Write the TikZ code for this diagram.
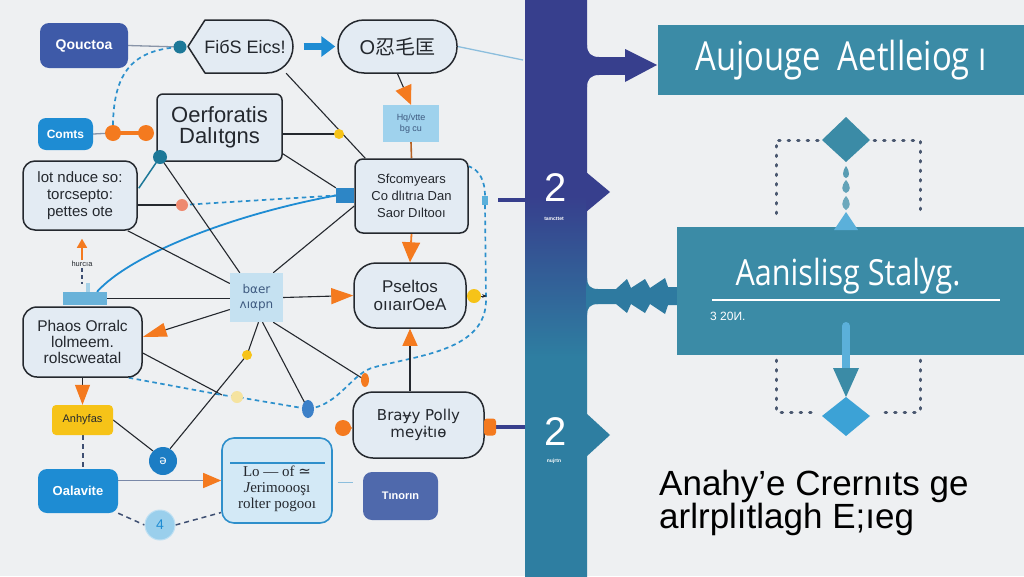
\documentclass[tikz,border=0pt]{standalone}
\usepackage{fontspec}
\usepackage{graphicx}
\setmainfont{Liberation Sans}
\newfontfamily\cjk{Noto Sans CJK SC}
\newfontfamily\dv{DejaVu Sans}
\newfontfamily\osans{Open Sans}
\newfontfamily\lserif{Liberation Serif}
\usetikzlibrary{arrows.meta,calc}
\definecolor{bg}{HTML}{EEF0F2}
\definecolor{nfill}{HTML}{E3EBF3}
\definecolor{edge}{HTML}{24282E}
\definecolor{dblue}{HTML}{3E5AA8}
\definecolor{bblue}{HTML}{1E8CD3}
\definecolor{lblue}{HTML}{9FD2ED}
\definecolor{hubc}{HTML}{C5E1F1}
\definecolor{hubt}{HTML}{3E5A80}
\definecolor{orng}{HTML}{F47A1F}
\definecolor{yel}{HTML}{F6C318}
\definecolor{teal}{HTML}{3B8BA6}
\definecolor{navy}{HTML}{373F8D}
\definecolor{colteal}{HTML}{2E7EA1}
\definecolor{dashb}{HTML}{2C90CC}
\definecolor{grayl}{HTML}{8894A8}
\definecolor{tealdot}{HTML}{1D7898}
\definecolor{salmon}{HTML}{EE8A70}
\definecolor{tabc}{HTML}{69B2D9}
\definecolor{circb}{HTML}{1C7DC4}
\definecolor{lbtwo}{HTML}{9ACFEC}
\definecolor{lbthree}{HTML}{BFE0F3}
\definecolor{lbb}{HTML}{2E8FCB}
\definecolor{lbf}{HTML}{D3E9F6}
\definecolor{slate}{HTML}{4F69AC}
\definecolor{slated}{HTML}{3E4F72}
\definecolor{dotc}{HTML}{4A5870}
\definecolor{lightar}{HTML}{5BB0DA}
\definecolor{diab}{HTML}{3CA2D6}
\definecolor{bluesq}{HTML}{2D86C6}
\definecolor{lline}{HTML}{8CBEDD}
\definecolor{paleyel}{HTML}{F5E3A0}
\definecolor{dropb}{HTML}{3C80C8}
\definecolor{midcol}{HTML}{2E7AA0}
\pgfdeclarelayer{back}
\pgfsetlayers{back,main}
\pgfdeclareverticalshading{colshade}{100bp}{color(0bp)=(colteal); color(44bp)=(colteal); color(58bp)=(navy); color(100bp)=(navy)}
\begin{document}
\begin{tikzpicture}[x=1pt,y=-1pt,
  box/.style={draw=edge,line width=1.5pt,fill=nfill,rounded corners=#1,align=center,inner sep=1pt,text=edge},
  box/.default=8pt,
  solidbox/.style={fill=#1,rounded corners=9pt,align=center,text=white,inner sep=1pt},
  link/.style={draw=edge,line width=1.1pt},
  dashlink/.style={draw=dashb,line width=1.7pt,dash pattern=on 4.5pt off 3.5pt},
  slatedash/.style={draw=slated,line width=1.5pt,dash pattern=on 5pt off 4pt},
  dotline/.style={draw=dotc,line width=3pt,line cap=round,dash pattern=on 1.5pt off 8pt},
]
\begin{pgfonlayer}{back}
\fill[bg] (0,0) rectangle (1024,576);
\end{pgfonlayer}
\useasboundingbox (0,0) rectangle (1024,576);

% ---------- right column ----------
\shade[shading=colshade] (525,0) rectangle (587,576);
\fill[navy] (586,57) rectangle (626,75);
\fill[navy] (587,45) .. controls (587,53) and (591,57) .. (599,57) -- (586,57) -- cycle;
\fill[navy] (587,87) .. controls (587,79) and (591,75) .. (599,75) -- (586,75) -- cycle;
\fill[navy] (625,49) -- (657,65) -- (625,82) -- cycle;
\fill[navy] (586,172) -- (610,192) -- (586,212) -- cycle;
\fill[colteal] (586,413) -- (610,435) -- (586,457) -- cycle;
\fill[midcol] (586,289) -- (616,289) -- (627,279) -- (631,288) -- (645,279) -- (650,288) -- (665,278) -- (668,287) -- (679,287)
  -- (679,305) -- (668,305) -- (665,314) -- (650,304) -- (645,313) -- (631,304) -- (627,313) -- (616,304) -- (586,304) -- cycle;
\fill[midcol] (587,278) .. controls (587,285) and (590,289) .. (598,289) -- (586,289) -- cycle;
\fill[midcol] (587,315) .. controls (587,308) and (590,304) .. (598,304) -- (586,304) -- cycle;

\node[text=white,font=\fontsize{40}{40}\selectfont,inner sep=0] (twoa) at (556,188) {2};
\node[text=white,font=\bfseries\fontsize{5}{5}\selectfont,inner sep=0] (twoalab) at (554,219) {tamcttet};
\node[text=white,font=\fontsize{40}{40}\selectfont,inner sep=0] (twob) at (556,432) {2};
\node[text=white,font=\bfseries\fontsize{5}{5}\selectfont,inner sep=0] (twoblab) at (554,461) {nujrtn};

\node[fill=teal,minimum width=366pt,minimum height=70pt,inner sep=0,text=white] (box1) at (841,60)
  {\scalebox{0.82}[1]{\osans\fontsize{40}{40}\selectfont Aujouge\ \ Aetlleiog ı}};
\node[fill=teal,minimum width=347pt,minimum height=128pt,inner sep=0] (box2) at (850.5,291) {};
\node[text=white,inner sep=0] (box2t) at (848,276)
  {\scalebox{0.85}[1]{\osans\fontsize{36}{36}\selectfont Aanislisg Stalyg.}};
\draw[white,line width=1.3pt] (712,300) -- (1000,300);
\node[text=white,anchor=west,inner sep=0,font=\fontsize{12}{12}\selectfont] (box2s) at (710,316) {3 20И.};

% upper dotted frame and diamond
\draw[dotline] (818,140) -- (776,140) -- (776,217);
\draw[dotline] (874,140) -- (920,140) -- (920,217);
\fill[teal] (846,117) -- (870,140) -- (846,162) -- (822,140) -- cycle;
\fill[teal!85!white] (846,166) .. controls (850,172) and (850,177) .. (846,178) .. controls (842,177) and (842,172) .. (846,166);
\fill[teal!80!white] (846,180) .. controls (851,186) and (851,191) .. (846,193) .. controls (841,191) and (841,186) .. (846,180);
\fill[teal!75!white] (846,196) .. controls (851,202) and (851,207) .. (846,210) .. controls (841,207) and (841,202) .. (846,196);
\fill[lightar] (846,212) -- (858,230) -- (834,230) -- cycle;

% lower arrow, dotted frame and diamond
\draw[lightar,line width=8pt,line cap=round] (846,326) -- (846,372);
\fill[teal] (833,368) -- (859,368) -- (846,397) -- cycle;
\draw[dotline] (776,360) -- (776,412) -- (816,412);
\draw[dotline] (920,360) -- (920,412) -- (878,412);
\fill[diab] (846,397) -- (870,416) -- (846,436) -- (822,416) -- cycle;

\node[anchor=north west,align=left,inner sep=0,text=black,font=\fontsize{35}{33}\selectfont] (btxt) at (659,470)
  {Anahy’e Crernıts ge\\arlrplıtlagh E;ıeg};

% ---------- left diagram nodes ----------
\node[solidbox=dblue,minimum width=88pt,minimum height=45pt,font=\bfseries\fontsize{14}{16}\selectfont] (qou) at (84,45.5) {Qouctoa};
\filldraw[fill=nfill,draw=edge,line width=1.5pt,line join=round] (188,46.5) -- (205,20) -- (267,20) .. controls (281,20) and (293,32) .. (293,46.5) .. controls (293,61) and (281,73) .. (267,73) -- (205,73) -- cycle;
\node[minimum width=105pt,minimum height=53pt,inner sep=0,text=edge,font=\fontsize{18}{19}\selectfont] (fibs) at (245,46.5) {FiбS Eics!};
\node[box=26pt,minimum width=119pt,minimum height=53pt,font=\fontsize{20}{22}\selectfont] (pill) at (397.5,46.5) {O{\cjk 忍毛匡}};
\node[fill=lblue,minimum width=56pt,minimum height=37pt,align=center,text=hubt,inner sep=1pt,font=\fontsize{9}{11}\selectfont] (hq) at (411,123.5) {Hq/vtte\\bg cu};
\node[box=8pt,minimum width=113pt,minimum height=74pt,font=\fontsize{13}{17}\selectfont] (sfc) at (411.5,196) {Sfcomyears\\Co dlıtrıa Dan\\Saor Dıltooı};
\node[box=6pt,minimum width=125pt,minimum height=67pt,font=\fontsize{22}{21}\selectfont] (oerf) at (219.5,127.5) {Oerforatis\\Dalıtgns};
\node[solidbox=bblue,rounded corners=8pt,minimum width=55pt,minimum height=32pt,font=\bfseries\fontsize{12}{14}\selectfont] (comts) at (65.5,134) {Comts};
\node[box=12pt,minimum width=114pt,minimum height=69pt,font=\fontsize{15}{17}\selectfont] (lot) at (80,195.5) {lot nduce so:\\torcsepto:\\pettes ote};
\node[box=14pt,minimum width=119pt,minimum height=70pt,font=\fontsize{15.5}{16}\selectfont] (phaos) at (82.5,342) {Phaos Orralc\\lolmeem.\\rolscweatal};
\node[fill=tabc,minimum width=44pt,minimum height=13pt,inner sep=0] (tab) at (85,298.5) {};
\fill[tabc!60!white] (86,283) rectangle (90,292);
\node[text=edge,inner sep=1pt,font=\fontsize{7.5}{8}\selectfont] (hur) at (82,264) {hurcıa};
\node[fill=yel,rounded corners=4pt,minimum width=61pt,minimum height=30pt,text=edge,inner sep=1pt,font=\fontsize{11}{12}\selectfont] (anh) at (82.5,420) {Anhyfas};
\node[solidbox=bblue,minimum width=80pt,minimum height=44pt,font=\bfseries\fontsize{13}{15}\selectfont] (oal) at (78,491) {Oalavite};
\node[circle,fill=circb,minimum size=28pt,inner sep=0,text=white,font=\dv\fontsize{12}{12}\selectfont] (ca) at (163,461) {ə};
\node[circle,fill=lbtwo,draw=lbthree,line width=1pt,minimum size=30pt,inner sep=0,text=bblue,font=\fontsize{14}{14}\selectfont] (cfour) at (160,525) {4};
\node[draw=lbb,line width=1.6pt,fill=lbf,rounded corners=12pt,minimum width=110pt,minimum height=85pt] (lbox) at (277,480.5) {};
\draw[lbb,line width=1.6pt] (230,463) -- (325,463);
\node[align=center,inner sep=0,text=edge,font=\lserif\fontsize{15}{16}\selectfont] (lbtxt) at (277,489) {Lo — of {\dv ≃}\\{\itshape J}erimoooşı\\rolter pogooı};
\node[solidbox=slate,minimum width=75pt,minimum height=48pt,font=\bfseries\fontsize{11}{13}\selectfont] (tin) at (400.5,496) {Tınorın};
\node[fill=hubc,minimum width=53pt,minimum height=49pt,align=center,text=hubt,inner sep=0,font=\dv\fontsize{12}{15}\selectfont] (hub) at (256.5,297.5) {bαer\\ʌıαpn};
\node[box=22pt,minimum width=112pt,minimum height=65pt,font=\fontsize{17}{18}\selectfont] (pse) at (410,295.5) {Pseltos\\oııaırOeA};
\node[box=20pt,minimum width=131pt,minimum height=66pt,font=\dv\fontsize{15}{17}\selectfont] (bra) at (418.5,425) {Braɏy Polly\\meyɨtıɵ};
\node[fill=bluesq,minimum width=18pt,minimum height=15pt,inner sep=0] (bsq) at (345,195.5) {};
\node[fill=lightar,minimum width=6pt,minimum height=9pt,inner sep=0] (rsq) at (485,200) {};
\node[fill=orng,rounded corners=3pt,minimum width=12pt,minimum height=17pt,inner sep=0] (ro) at (490,427) {};

\coordinate (td) at (180,47);
\coordinate (odone) at (113,133);
\coordinate (odtwo) at (146,133);
\coordinate (ydone) at (339,134);
\coordinate (sd) at (182,205);
\coordinate (tdot) at (160,157);
\coordinate (ydtwo) at (247,355);
\coordinate (bdrop) at (308,409);
\coordinate (odrop) at (365,380);
\coordinate (ydim) at (237,397);
\coordinate (mid) at (222,395);
\coordinate (ydthree) at (474,296);
\coordinate (ldrop) at (343,428);
\coordinate (pr) at (523,60);
\coordinate (nbone) at (498,200);
\coordinate (clone) at (526,200);
\coordinate (cltwo) at (526,427);

% ---------- connectors ----------
\begin{pgfonlayer}{back}
\draw[grayl,line width=1.3pt] (qou.east) -- (td);
\draw[dashlink] (odone) .. controls (112,75) and (130,50) .. (td);
\draw[grayl,line width=1.3pt] (comts.east) -- (odone);
\draw[orng,line width=4pt] (odone) -- (odtwo);
\draw[bblue,line width=7pt,-{Triangle[length=14pt,width=20pt]}] ($(fibs.east)+(6,0)$) -- ($(pill.west)+(-2,0)$);
\draw[lline,line width=1.3pt] (pill.east) -- (pr);
\draw[link,-{Triangle[length=19pt,width=17pt,color=orng]}] (pill.south) -- (hq.north);
\draw[orng!70!edge,line width=1.6pt] (hq.south) -- (sfc.north);
\draw[link] (fibs.-33) -- ($(sfc.north west)+(11,0)$);
\draw[link] (oerf.east |- ydone) -- (ydone);
\draw[link] ($(oerf.south east)+(0,-8)$) -- (bsq.north west);
\draw[link] (lot.east |- sd) -- (sd);
\draw[dashlink] (sd) -- (bsq.west);
\draw[bblue,line width=1.8pt] ($(tab.north)+(12,0)$) .. controls (130,255) and (230,215) .. (bsq.west);
\draw[tealdot,line width=1.5pt] (tdot) -- ($(lot.north east)+(1,28)$);
\draw[link] (tdot) -- ($(hub.north west)+(10,0)$);
\draw[link] ($(lot.south east)+(-10,0)$) -- ($(hub.west)+(0,-14)$);
\draw[link] ($(sfc.west)+(0,10)$) -- ($(hub.north east)+(-10,0)$);
\draw[link] (tab.east) -- (hub.west |- tab.east);
\draw[link,-{Triangle[length=24pt,width=14pt,color=orng]}] ($(hub.west)+(0,12)$) -- ($(phaos.east)+(0,-5)$);
\draw[link] ($(phaos.east)+(0,11)$) -- (mid);
\draw[dashlink] ($(phaos.south east)+(-14,0)$) -- (mid) -- (ydim) -- (bdrop);
\draw[dashlink] (bdrop) .. controls (340,405) and (352,372) .. (375,367) .. controls (420,355) and (486,350) .. (486,300) -- (rsq.south);
\draw[dashlink] (rsq.north) .. controls (485,182) and (480,170) .. ($(sfc.north east)+(0,8)$);
\draw[link] (anh.east) -- (ca.135);
\draw[link] (ca.60) -- (ydtwo) -- ($(hub.south)+(2,0)$);
\draw[link] ($(hub.south)+(6,0)$) -- (bdrop);
\draw[link] ($(hub.south east)+(-10,0)$) -- (odrop);
\draw[link,-{Triangle[length=22pt,width=16pt,color=orng]}] (hub.east) -- (pse.west);
\draw[orng,line width=1.8pt,-{Triangle[length=20pt,width=18pt,color=orng]}] (sfc.south) -- (pse.north);
\draw[link,-{Triangle[length=17pt,width=15pt,color=orng]}] ($(bra.north)+(-8.5,0)$) -- (pse.south);
\draw[navy,line width=4pt] (ro.east) -- (cltwo);
\draw[navy,line width=4pt] (nbone) -- (clone);
\draw[link,-{Triangle[length=20pt,width=15pt,color=orng]}] (phaos.south) -- (anh.north);
\draw[slatedash,line width=2pt] (anh.south) -- (anh.south |- oal.north);
\draw[grayl!80!dblue,line width=1.4pt,-{Triangle[length=18pt,width=15pt,color=orng]}] (oal.east |- lbox.west) -- (lbox.west);
\draw[slatedash] (oal.south east) -- (cfour.west);
\draw[slatedash] (cfour.east) -- ($(lbox.west)+(0,32)$);
\draw[lline,line width=1.3pt] ($(lbox.east)+(5,2)$) -- ($(lbox.east)+(20,2)$);
\draw[orng,line width=1.5pt,-{Triangle[length=9pt,width=10pt]}] (hur.north) -- ($(lot.south)+(2,8)$);
\draw[slatedash,line width=1.5pt,dash pattern=on 4pt off 3pt] (hur.south) -- ($(tab.north)+(-3,-8)$);
\draw[edge,line width=1pt,-{Stealth[length=5pt]}] (ydthree) -- ($(ydthree)+(13,0)$);
\end{pgfonlayer}

% ---------- dots ----------
\fill[tealdot] (td) circle[radius=6.5pt];
\fill[orng] (odone) circle[radius=8pt];
\fill[orng] (odtwo) circle[radius=8pt];
\fill[yel] (ydone) circle[radius=5pt];
\fill[salmon] (sd) circle[radius=6pt];
\fill[tealdot] (tdot) circle[radius=7pt];
\fill[yel] (ydtwo) circle[radius=5pt];
\fill[dropb] (bdrop) ellipse[x radius=6pt,y radius=9pt];
\fill[orng] (odrop) ellipse[x radius=4pt,y radius=7pt];
\fill[paleyel] (ydim) circle[radius=6pt];
\fill[yel] (ydthree) circle[radius=7pt];
\fill[orng] (ldrop) circle[radius=8pt];
\fill[orng] ($(ldrop)+(2,-7)$) -- ($(bra.west)+(0,3)$) -- ($(ldrop)+(2,7)$) -- cycle;
\end{tikzpicture}
\end{document}
